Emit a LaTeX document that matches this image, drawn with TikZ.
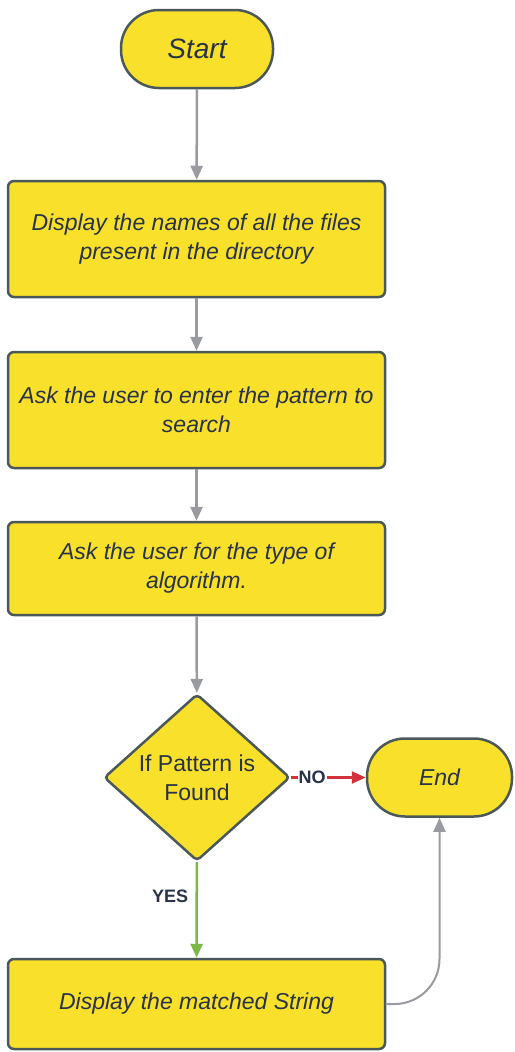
\documentclass[tikz,border=0pt]{standalone}
\usepackage{xcolor}
\usepackage{tikz}
\usepackage{fontspec}
\setmainfont{Liberation Sans}
\usetikzlibrary{shapes.geometric,arrows.meta}
\definecolor{flowyellow}{RGB}{249,224,42}
\definecolor{flowedge}{RGB}{74,88,90}
\definecolor{flowtext}{RGB}{40,50,73}
\definecolor{flowgray}{RGB}{153,155,160}
\definecolor{flowred}{RGB}{209,50,60}
\definecolor{flowgreen}{RGB}{122,184,72}

\begin{document}
\begin{tikzpicture}[x=1pt, y=-1pt,
        box/.style={draw=flowedge, fill=flowyellow, line width=2.5pt, rounded corners=6pt,
            minimum width=377pt, inner sep=4pt, text=flowtext, align=center,
            font=\fontsize{23}{29}\selectfont\itshape},
        term/.style={box, rounded corners=38pt},
        decide/.style={diamond, draw=flowedge, fill=flowyellow, line width=2.5pt, rounded corners=4pt,
            minimum width=186pt, minimum height=167pt, inner sep=0pt, text=flowtext, align=center,
            font=\fontsize{23}{29}\selectfont},
        flow/.style={draw=flowgray, line width=2.5pt, -{Triangle[length=14pt,width=12pt]}},
        tag/.style={text=flowtext, font=\fontsize{18}{20}\selectfont\bfseries}]
        \useasboundingbox (0,0) rectangle (514,1052);

        % steps
        \node[term, minimum width=152pt, minimum height=78pt, font=\fontsize{28}{32}\selectfont\itshape] (start) at (197,49) {Start};
        \node[box, minimum height=116pt] (show) at (196.5,239) {Display the names of all the files\\present in the directory};
        \node[box, minimum height=116pt] (ask) at (196.5,410) {Ask the user to enter the pattern to\\search};
        \node[box, minimum height=93pt] (algo) at (196.5,568.5) {Ask the user for the type of\\algorithm.};
        \node[decide] (found) at (197,777.5) {If Pattern is\\Found};
        \node[term, minimum width=145pt, minimum height=78pt] (stop) at (439.5,777.5) {End};
        \node[box, minimum height=90pt] (match) at (196.5,1004) {Display the matched String};

        % connectors
        \draw[flow] (start) -- (show);
        \draw[flow] (show) -- (ask);
        \draw[flow] (ask) -- (algo);
        \draw[flow] (algo) -- (found);
        \draw[flow, flowred] (found) -- node[tag, fill=white, pos=0.28, inner sep=1pt] {NO} (stop);
        \draw[flow, flowgreen] (found) -- node[tag, left, pos=0.36, xshift=-4pt] {YES} (match);
        \draw[flow, line width=2pt, rounded corners=45pt] (match.east) -| (stop.south);
    \end{tikzpicture}
\end{document}
